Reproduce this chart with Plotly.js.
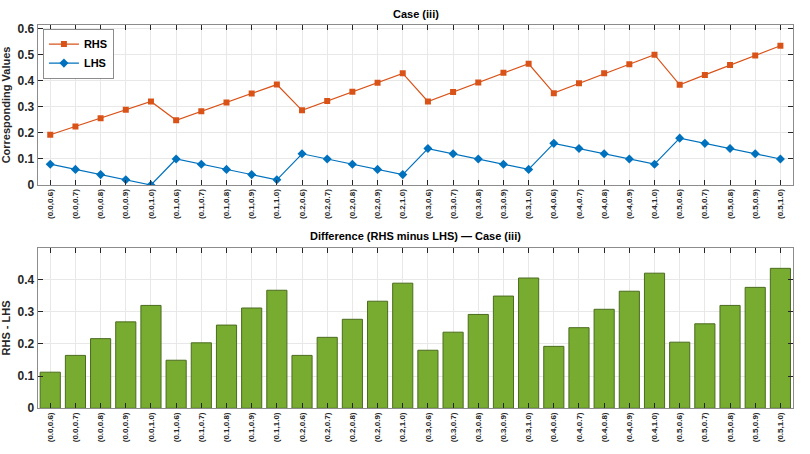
<!DOCTYPE html>
<html>
<head>
<meta charset="utf-8">
<script src="https://cdn.plot.ly/plotly-3.0.1.min.js"></script>
<style>
  html, body { margin: 0; padding: 0; background: #fff; }
  #myDiv { width: 810px; height: 454px; }
</style>
</head>
<body>
<div id="myDiv"></div>
<script>
// labels as printed in the figure
var tickLabels = ['(0.0,0.6)', '(0.0,0.7)', '(0.0,0.8)', '(0.0,0.9)', '(0.0,1.0)',
                  '(0.1,0.6)', '(0.1,0.7)', '(0.1,0.8)', '(0.1,0.9)', '(0.1,1.0)',
                  '(0.2,0.6)', '(0.2,0.7)', '(0.2,0.8)', '(0.2,0.9)', '(0.2,1.0)',
                  '(0.3,0.6)', '(0.3,0.7)', '(0.3,0.8)', '(0.3,0.9)', '(0.3,1.0)',
                  '(0.4,0.6)', '(0.4,0.7)', '(0.4,0.8)', '(0.4,0.9)', '(0.4,1.0)',
                  '(0.5,0.6)', '(0.5,0.7)', '(0.5,0.8)', '(0.5,0.9)', '(0.5,1.0)'];

var rhs = [0.193, 0.225, 0.257, 0.289, 0.321,
           0.249, 0.283, 0.317, 0.352, 0.386,
           0.287, 0.323, 0.358, 0.393, 0.429,
           0.321, 0.357, 0.394, 0.431, 0.466,
           0.353, 0.391, 0.429, 0.464, 0.501,
           0.385, 0.423, 0.461, 0.498, 0.535];

var lhs = [0.08, 0.06, 0.04, 0.02, 0.00,
           0.10, 0.08, 0.06, 0.04, 0.02,
           0.12, 0.10, 0.08, 0.06, 0.04,
           0.14, 0.12, 0.10, 0.08, 0.06,
           0.16, 0.14, 0.12, 0.10, 0.08,
           0.18, 0.16, 0.14, 0.12, 0.10];

var diffs = [0.112, 0.164, 0.216, 0.268, 0.319,
             0.149, 0.203, 0.258, 0.311, 0.366,
             0.164, 0.220, 0.276, 0.332, 0.388,
             0.180, 0.236, 0.291, 0.348, 0.404,
             0.192, 0.250, 0.307, 0.363, 0.419,
             0.205, 0.262, 0.319, 0.375, 0.434];

var FONT = 'Liberation Sans, Arial, Helvetica, sans-serif';
var idx = tickLabels.map(function(_, i) { return i; });

var data = [{
    x: idx, y: rhs, name: 'RHS', type: 'scatter', mode: 'lines+markers',
    line: {color: '#D95319', width: 1.2},
    marker: {symbol: 'square', size: 6, color: '#D95319'},
    xaxis: 'x', yaxis: 'y'
}, {
    x: idx, y: lhs, name: 'LHS', type: 'scatter', mode: 'lines+markers',
    line: {color: '#0072BD', width: 1.2},
    marker: {symbol: 'diamond', size: 7, color: '#0072BD'},
    xaxis: 'x', yaxis: 'y'
}, {
    x: idx, y: diffs, name: 'RHS - LHS', type: 'bar', showlegend: false,
    width: 0.8,
    marker: {color: '#77AC30', line: {color: '#4B6B1E', width: 1}},
    xaxis: 'x2', yaxis: 'y2'
}];

function xAxis(anchor) {
    return {
        anchor: anchor,
        domain: [0.0465, 0.979],
        range: [-0.5, 29.5],
        tickmode: 'array', tickvals: idx, ticktext: tickLabels,
        tickangle: -90,
        tickfont: {family: FONT, size: 8, color: '#262626', weight: 'bold'},
        ticks: 'inside', ticklen: 5, tickcolor: '#262626',
        showline: true, linecolor: '#8c8c8c', linewidth: 1, mirror: 'ticks',
        showgrid: true, gridcolor: '#e8e8e8', zeroline: false
    };
}

function yAxis(anchor, range, dom, title) {
    return {
        anchor: anchor,
        domain: dom,
        range: range,
        dtick: 0.1, tick0: 0,
        tickfont: {family: FONT, size: 12, color: '#262626', weight: 'bold'},
        ticks: 'inside', ticklen: 5, tickcolor: '#262626',
        showline: true, linecolor: '#8c8c8c', linewidth: 1, mirror: 'ticks',
        showgrid: true, gridcolor: '#e8e8e8', zeroline: false,
        title: {text: title, font: {family: FONT, size: 11, color: '#262626', weight: 'bold'}, standoff: 6}
    };
}

var layout = {
    width: 810, height: 454,
    margin: {l: 0, r: 0, t: 0, b: 0},
    paper_bgcolor: '#ffffff', plot_bgcolor: '#ffffff',
    showlegend: true,
    legend: {
        x: 0.053, y: 0.937, xanchor: 'left', yanchor: 'top',
        bgcolor: '#ffffff', bordercolor: '#8c8c8c', borderwidth: 1,
        font: {family: FONT, size: 11, color: '#000', weight: 'bold'},
        tracegroupgap: 0, itemwidth: 30
    },
    xaxis: xAxis('y'),
    yaxis: yAxis('x', [0, 0.615], [0.5925, 0.945], 'Corresponding Values'),
    xaxis2: xAxis('y2'),
    yaxis2: yAxis('x2', [0, 0.498], [0.1007, 0.4544], 'RHS - LHS'),
    annotations: [{
        text: 'Case (iii)', xref: 'paper', yref: 'paper', x: 0.513, y: 1 - 14 / 454,
        xanchor: 'center', yanchor: 'middle', showarrow: false,
        font: {family: FONT, size: 11, color: '#000', weight: 'bold'}
    }, {
        text: 'Difference (RHS minus LHS) \u2014 Case (iii)', xref: 'paper', yref: 'paper',
        x: 0.513, y: 1 - 236 / 454, xanchor: 'center', yanchor: 'middle', showarrow: false,
        font: {family: FONT, size: 11, color: '#000', weight: 'bold'}
    }]
};

Plotly.newPlot('myDiv', data, layout, {displayModeBar: false, staticPlot: true});
</script>
</body>
</html>
